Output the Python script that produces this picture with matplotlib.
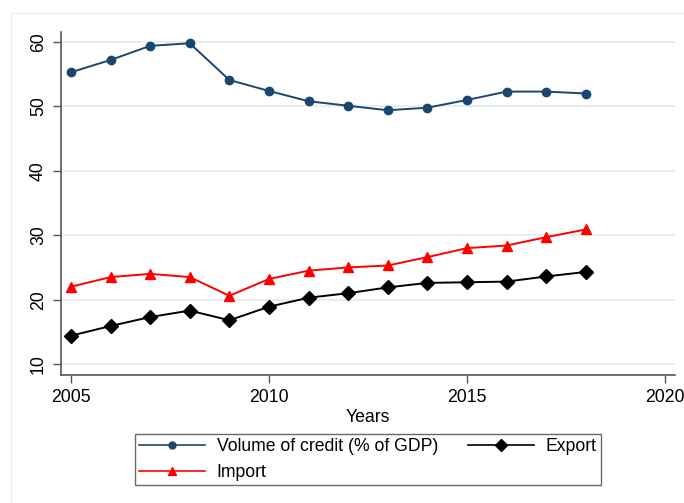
import matplotlib
matplotlib.use("Agg")
import matplotlib.pyplot as plt
from matplotlib.lines import Line2D
from matplotlib.patches import Rectangle

plt.rcParams['font.family'] = ['Liberation Sans', 'DejaVu Sans']

years = [2005, 2006, 2007, 2008, 2009, 2010, 2011, 2012, 2013, 2014, 2015, 2016, 2017, 2018]
credit = [55.3, 57.2, 59.4, 59.8, 54.1, 52.4, 50.8, 50.1, 49.4, 49.8, 51.0, 52.3, 52.3, 52.0]
imports = [22.0, 23.5, 24.0, 23.5, 20.6, 23.2, 24.5, 25.0, 25.3, 26.6, 28.0, 28.4, 29.7, 30.9]
exports = [14.4, 15.9, 17.3, 18.3, 16.8, 18.9, 20.3, 21.0, 21.9, 22.6, 22.7, 22.8, 23.6, 24.3]
xticks = [2005, 2010, 2015, 2020]
yticks = [10, 20, 30, 40, 50, 60]

W, H = 684, 503
fig = plt.figure(figsize=(W / 100, H / 100), dpi=100)
fig.patch.set_facecolor('white')

# faint outer frame
fig.add_artist(Rectangle((10.5 / W, -0.1), 1.2, (H - 13.5) / H + 0.1, transform=fig.transFigure,
                         fill=False, edgecolor='#e9eeee', linewidth=1.0))

ax = fig.add_axes([61 / W, (H - 375) / H, (675 - 61) / W, (375 - 32) / H])

navy = '#1a476f'
ax.plot(years, credit, color=navy, marker='o', markersize=6, linewidth=1.4,
        label='Volume of credit (% of GDP)')
ax.plot(years, imports, color='red', marker='^', markersize=7, linewidth=1.4, label='Import')
ax.plot(years, exports, color='black', marker='D', markersize=7, linewidth=1.4, label='Export')

ax.set_xlim(2004.75, 2020.25)
ax.set_ylim(8.3, 61.55)
ax.set_xticks(xticks)
ax.set_yticks(yticks)
ax.set_xticklabels([str(x) for x in xticks], fontsize=12.7)
ax.set_yticklabels([str(y) for y in yticks], fontsize=12.7, rotation=90, va='center')

ax.grid(axis='y', color='#e8eef0', linewidth=1.5)
ax.set_axisbelow(True)
for s in ['top', 'right']:
    ax.spines[s].set_visible(False)
for s in ['left', 'bottom']:
    ax.spines[s].set_color('#555555')
    ax.spines[s].set_linewidth(1.2)
ax.tick_params(axis='both', direction='out', length=6, width=1.0, color='#555555', pad=4)

ax.set_xlabel('Years', fontsize=12.7, labelpad=2)

handles = [
    Line2D([], [], color=navy, marker='o', markersize=5, linewidth=1.2),
    Line2D([], [], color='red', marker='^', markersize=6, linewidth=1.2),
    Line2D([], [], color='black', marker='D', markersize=6, linewidth=1.2),
]
labels = ['Volume of credit (% of GDP)', 'Import', 'Export']
leg = fig.legend(handles, labels, loc='center', ncol=2,
                 bbox_to_anchor=(368 / W, (H - 459.5) / H),
                 fontsize=12.7, frameon=True, fancybox=False,
                 edgecolor='#444444', handlelength=3.75, borderpad=0.25,
                 labelspacing=0.52, columnspacing=1.7, handletextpad=0.65, borderaxespad=0)
leg.get_frame().set_linewidth(1.0)

fig.savefig('out.png', dpi=100, facecolor='white')
